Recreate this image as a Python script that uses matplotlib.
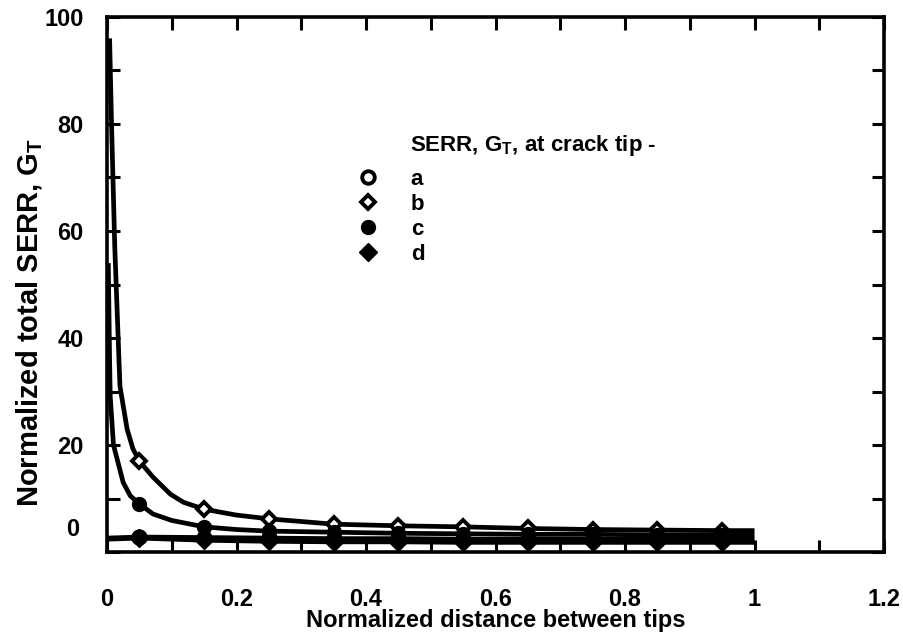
import matplotlib
matplotlib.use('Agg')
import matplotlib.pyplot as plt
from matplotlib.ticker import MultipleLocator, FuncFormatter

plt.rcParams['font.family'] = ['Liberation Sans', 'DejaVu Sans']
plt.rcParams['font.weight'] = 'bold'
plt.rcParams['mathtext.fontset'] = 'custom'
plt.rcParams['mathtext.rm'] = 'Liberation Sans:bold'
plt.rcParams['mathtext.bf'] = 'Liberation Sans:bold'
plt.rcParams['mathtext.it'] = 'Liberation Sans:bold'

# ---- data ----
marker_x = [0.05, 0.15, 0.25, 0.35, 0.45, 0.55, 0.65, 0.75, 0.85, 0.95]
tip_a = [2.8, 2.7, 2.6, 2.5, 2.5, 2.4, 2.4, 2.4, 2.4, 2.4]
tip_b = [17.0, 8.0, 6.2, 5.2, 4.9, 4.7, 4.4, 4.2, 4.1, 4.0]
tip_c = [9.0, 4.7, 3.9, 3.7, 3.5, 3.4, 3.3, 3.3, 3.2, 3.2]
tip_d = [2.6, 2.2, 2.0, 1.9, 1.9, 1.8, 1.8, 1.8, 1.8, 1.8]

curve_a_x = [0.0, 0.05, 0.15, 0.25, 0.35, 0.45, 0.55, 0.65, 0.75, 0.85, 0.95, 1.0]
curve_a_y = [2.6, 2.8, 2.7, 2.6, 2.5, 2.5, 2.4, 2.4, 2.4, 2.4, 2.4, 2.4]
curve_b_x = [0.004, 0.007, 0.012, 0.02, 0.031, 0.04, 0.05, 0.071, 0.098, 0.118,
             0.15, 0.2, 0.25, 0.35, 0.45, 0.55, 0.65, 0.75, 0.85, 0.95, 1.0]
curve_b_y = [96, 80, 57, 31, 23, 19.3, 17.0, 14.0, 10.8, 9.3,
             8.0, 6.9, 6.2, 5.2, 4.9, 4.7, 4.4, 4.2, 4.1, 4.0, 4.0]
curve_c_x = [0.002, 0.004, 0.005, 0.01, 0.025, 0.036, 0.05, 0.071, 0.1, 0.15,
             0.2, 0.25, 0.35, 0.45, 0.55, 0.65, 0.75, 0.85, 0.95, 1.0]
curve_c_y = [54, 36, 29, 20, 13, 10.5, 9.0, 7.1, 5.9, 4.7,
             4.2, 3.9, 3.7, 3.5, 3.4, 3.3, 3.3, 3.2, 3.2, 3.2]
curve_d_x = [0.0, 0.05, 0.15, 0.25, 0.35, 0.45, 0.55, 0.65, 0.75, 0.85, 0.95, 1.0]
curve_d_y = [2.4, 2.6, 2.2, 2.0, 1.9, 1.9, 1.8, 1.8, 1.8, 1.8, 1.8, 1.8]

series_labels = ['a', 'b', 'c', 'd']
x_ticks = [0, 0.2, 0.4, 0.6, 0.8, 1.0, 1.2]
y_ticks = [0, 20, 40, 60, 80, 100]

W, H = 904, 632
fig = plt.figure(figsize=(W / 100, H / 100), dpi=100)
ax = fig.add_axes([107 / W, 1 - 552 / H, (884 - 107) / W, (552 - 17) / H])

lw = 3.4
for cx, cy in [(curve_a_x, curve_a_y), (curve_b_x, curve_b_y),
               (curve_c_x, curve_c_y), (curve_d_x, curve_d_y)]:
    ax.plot(cx, cy, color='black', lw=lw, solid_capstyle='butt',
            solid_joinstyle='round', zorder=2)

ms = 9
h_a, = ax.plot(marker_x, tip_a, ls='none', marker='o', ms=ms, mfc='white',
               mec='black', mew=2.8, zorder=3)
h_b, = ax.plot(marker_x, tip_b, ls='none', marker='D', ms=ms - 1.5, mfc='white',
               mec='black', mew=2.8, zorder=3)
h_c, = ax.plot(marker_x, tip_c, ls='none', marker='o', ms=ms + 1, mfc='black',
               mec='black', mew=1, zorder=3)
h_d, = ax.plot(marker_x, tip_d, ls='none', marker='D', ms=ms, mfc='black',
               mec='black', mew=1, zorder=3)

ax.set_xlim(0, 1.2)
ax.set_ylim(0, 100)
ax.set_xticks(x_ticks)
ax.set_yticks(y_ticks)
ax.xaxis.set_minor_locator(MultipleLocator(0.1))
ax.yaxis.set_minor_locator(MultipleLocator(10))
ax.xaxis.set_major_formatter(FuncFormatter(
    lambda v, p: '0' if abs(v) < 1e-9 else ('1' if abs(v - 1) < 1e-9 else f'{v:g}')))
ax.yaxis.set_major_formatter(FuncFormatter(lambda v, p: '' if abs(v) < 1e-9 else f'{v:g}'))

for s in ax.spines.values():
    s.set_linewidth(2.6)
ax.tick_params(which='both', direction='in', top=True, right=True,
               length=9, width=2.2, labelsize=17)
ax.tick_params(axis='x', which='both', pad=26)
ax.tick_params(axis='y', which='both', pad=17)

# y tick label "0" sits higher than its tick in the reference
ax.annotate('0', xy=(0, 0), xycoords='axes fraction', xytext=(-28, 22),
            textcoords='offset pixels', ha='right', va='center', fontsize=17,
            fontweight='bold')

ax.set_xlabel('Normalized distance between tips', fontsize=17, fontweight='bold',
              va='baseline')
ax.xaxis.set_label_coords(0.5, -(627 - 552) / 535)
ax.set_ylabel(r'Normalized total SERR, G$_\mathrm{T}$', fontsize=21,
              fontweight='bold', va='center')
ax.yaxis.set_label_coords(-(107 - 30) / 777, (552 - 323) / 535)

ax.text(410 / W, 1 - 146 / H, r'SERR, G$_\mathrm{T}$, at crack tip -',
        transform=fig.transFigure, fontsize=16, fontweight='bold',
        ha='left', va='center')
leg = ax.legend([h_a, h_b, h_c, h_d], series_labels, loc='upper left',
                bbox_to_anchor=(357 / W, 1 - 169 / H),
                bbox_transform=fig.transFigure, frameon=False, borderpad=0,
                borderaxespad=0, handlelength=1.0, handletextpad=1.42,
                labelspacing=0.18, prop={'size': 16, 'weight': 'bold'},
                numpoints=1)

fig.savefig('out.png', dpi=100)
